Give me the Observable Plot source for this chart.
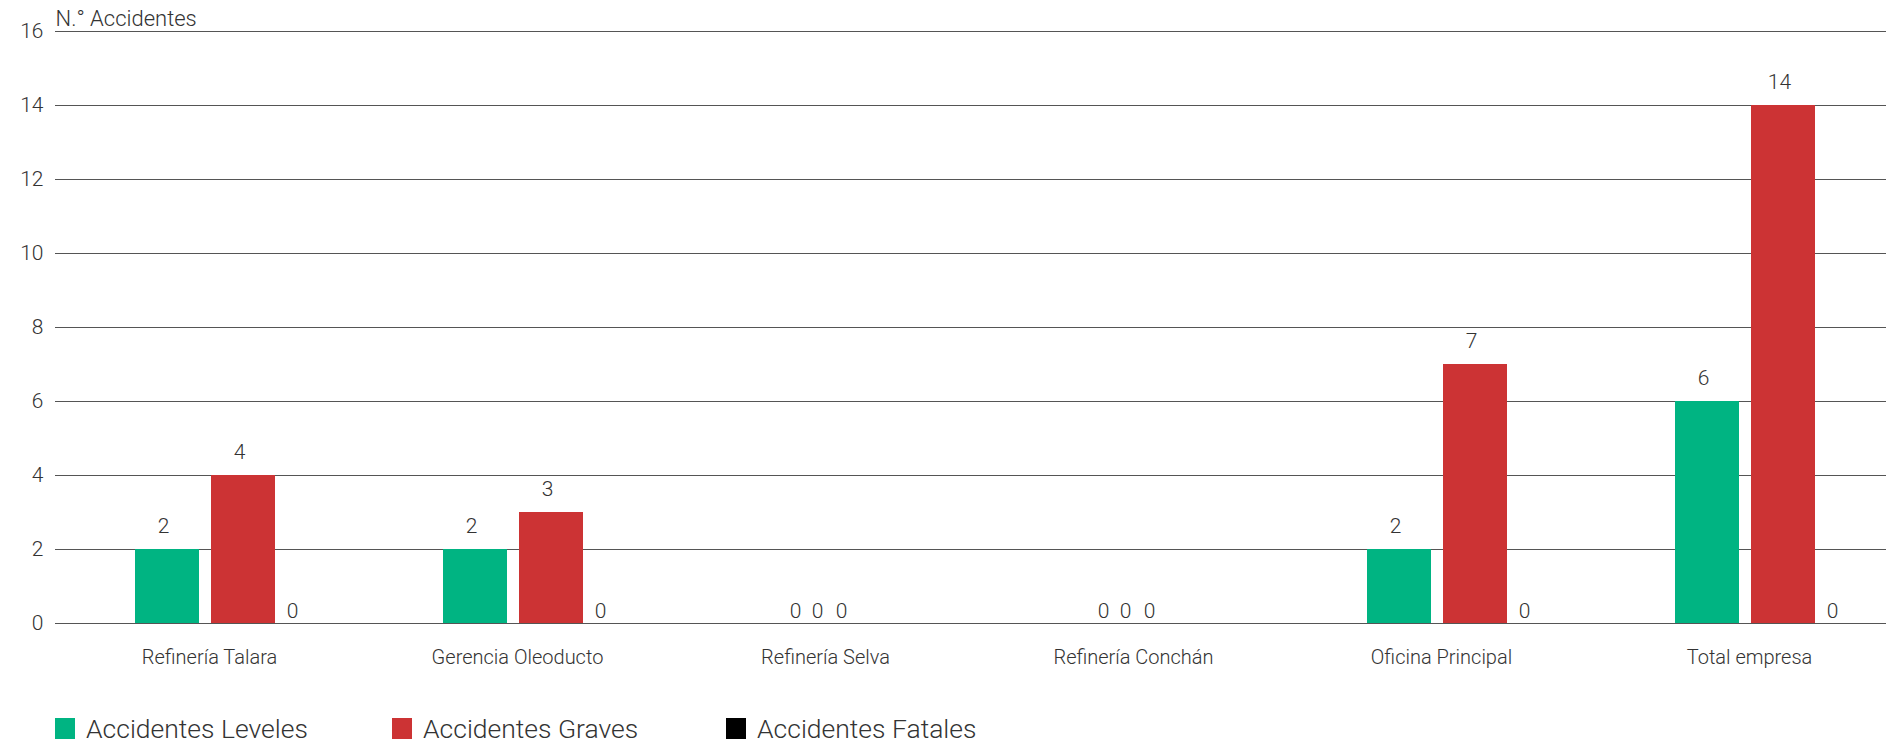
<!DOCTYPE html>
<html>
<head>
<meta charset="utf-8">
<script src="https://cdn.jsdelivr.net/npm/d3@7"></script>
<script src="https://cdn.jsdelivr.net/npm/@observablehq/plot@0.6"></script>
<style>
  html, body { margin: 0; padding: 0; background: #fff; }
  body { width: 1886px; height: 745px; overflow: hidden; font-family: Roboto, "Liberation Sans", sans-serif; font-weight: 300; color: #333; }
  #chart svg { display: block; }
  .legend { display: flex; align-items: center; height: 22px; padding-left: 55px; margin-top: 27px; }
  .item { display: flex; align-items: center; font-size: 26.5px; color: #333; }
  .sw { width: 20px; height: 21px; margin-right: 11px; flex: none; }
</style>
</head>
<body>
<div id="chart"></div>
<div class="legend" id="legend"></div>
<script>
// ---- data ----
const categories = ["Refinería Talara", "Gerencia Oleoducto", "Refinería Selva", "Refinería Conchán", "Oficina Principal", "Total empresa"];
const seriesNames = ["Accidentes Leveles", "Accidentes Graves", "Accidentes Fatales"];
const leveles = [2, 2, 0, 0, 2, 6];
const graves  = [4, 3, 0, 0, 7, 14];
const fatales = [0, 0, 0, 0, 0, 0];
const yTicks = [0, 2, 4, 6, 8, 10, 12, 14, 16];
const yLabel = "N.° Accidentes";

// ---- styles ----
const colors = ["#00b482", "#cc3334", "#000000"];
const barCenter = [-42, 34, 110];       // bar centre offset from band centre
const compactZero = [-30, -8, 16];      // label offsets when the whole group is zero
const values = [leveles, graves, fatales];

const rows = [];
categories.forEach((c, i) => {
  const allZero = values.every(v => v[i] === 0);
  seriesNames.forEach((s, k) => rows.push({category: c, series: s, k, value: values[k][i], allZero}));
});

const bandW = 308;
const barW = 64;
const textFill = "#333";
const marks = [
  Plot.ruleY(yTicks, {stroke: "#555", strokeWidth: 1})
];
seriesNames.forEach((s, k) => {
  const left = bandW / 2 + barCenter[k] - barW / 2;
  marks.push(Plot.barY(rows, {
    filter: d => d.k === k,
    x: "category", y: "value", fill: colors[k],
    insetLeft: left, insetRight: bandW - left - barW
  }));
  // labels above non-zero bars
  marks.push(Plot.text(rows, {
    filter: d => d.k === k && d.value > 0,
    x: "category", y: "value", text: d => String(d.value),
    dx: barCenter[k] - 4, dy: -17, lineAnchor: "bottom", fontSize: 21, fill: textFill
  }));
  // zero labels in groups with other bars
  marks.push(Plot.text(rows, {
    filter: d => d.k === k && d.value === 0 && !d.allZero,
    x: "category", y: "value", text: d => String(d.value),
    dx: barCenter[k] - 27, dy: -6, lineAnchor: "bottom", fontSize: 21, fill: textFill
  }));
  // zero labels in all-zero groups
  marks.push(Plot.text(rows, {
    filter: d => d.k === k && d.value === 0 && d.allZero,
    x: "category", y: "value", text: d => String(d.value),
    dx: compactZero[k], dy: -6, lineAnchor: "bottom", fontSize: 21, fill: textFill
  }));
});
marks.push(Plot.axisY({ticks: yTicks, tickSize: 0, tickPadding: 12, fontSize: 21, label: null}));
marks.push(Plot.axisX({tickSize: 0, tickPadding: 26, fontSize: 20, label: null}));
marks.push(Plot.text([yLabel], {frameAnchor: "top-left", text: d => d, textAnchor: "start", lineAnchor: "bottom", dy: -6, fontSize: 22, fill: textFill}));

const chart = Plot.plot({
  width: 1886,
  height: 690,
  marginTop: 31,
  marginBottom: 67,
  marginLeft: 55,
  marginRight: 0,
  x: {domain: categories, range: [55, 55 + bandW * categories.length], padding: 0},
  y: {domain: [0, 16], range: [623, 31]},
  style: {fontFamily: "Roboto, 'Liberation Sans', sans-serif", fontWeight: 300, color: "#333", background: "#fff", overflow: "visible"},
  marks
});
document.getElementById("chart").appendChild(chart);

const legend = document.getElementById("legend");
const itemWidths = [337, 334, 300];
seriesNames.forEach((s, k) => {
  const it = document.createElement("div");
  it.className = "item";
  it.style.width = itemWidths[k] + "px";
  const sw = document.createElement("div");
  sw.className = "sw";
  sw.style.background = colors[k];
  const tx = document.createElement("span");
  tx.textContent = s;
  it.appendChild(sw); it.appendChild(tx);
  legend.appendChild(it);
});
</script>
</body>
</html>
